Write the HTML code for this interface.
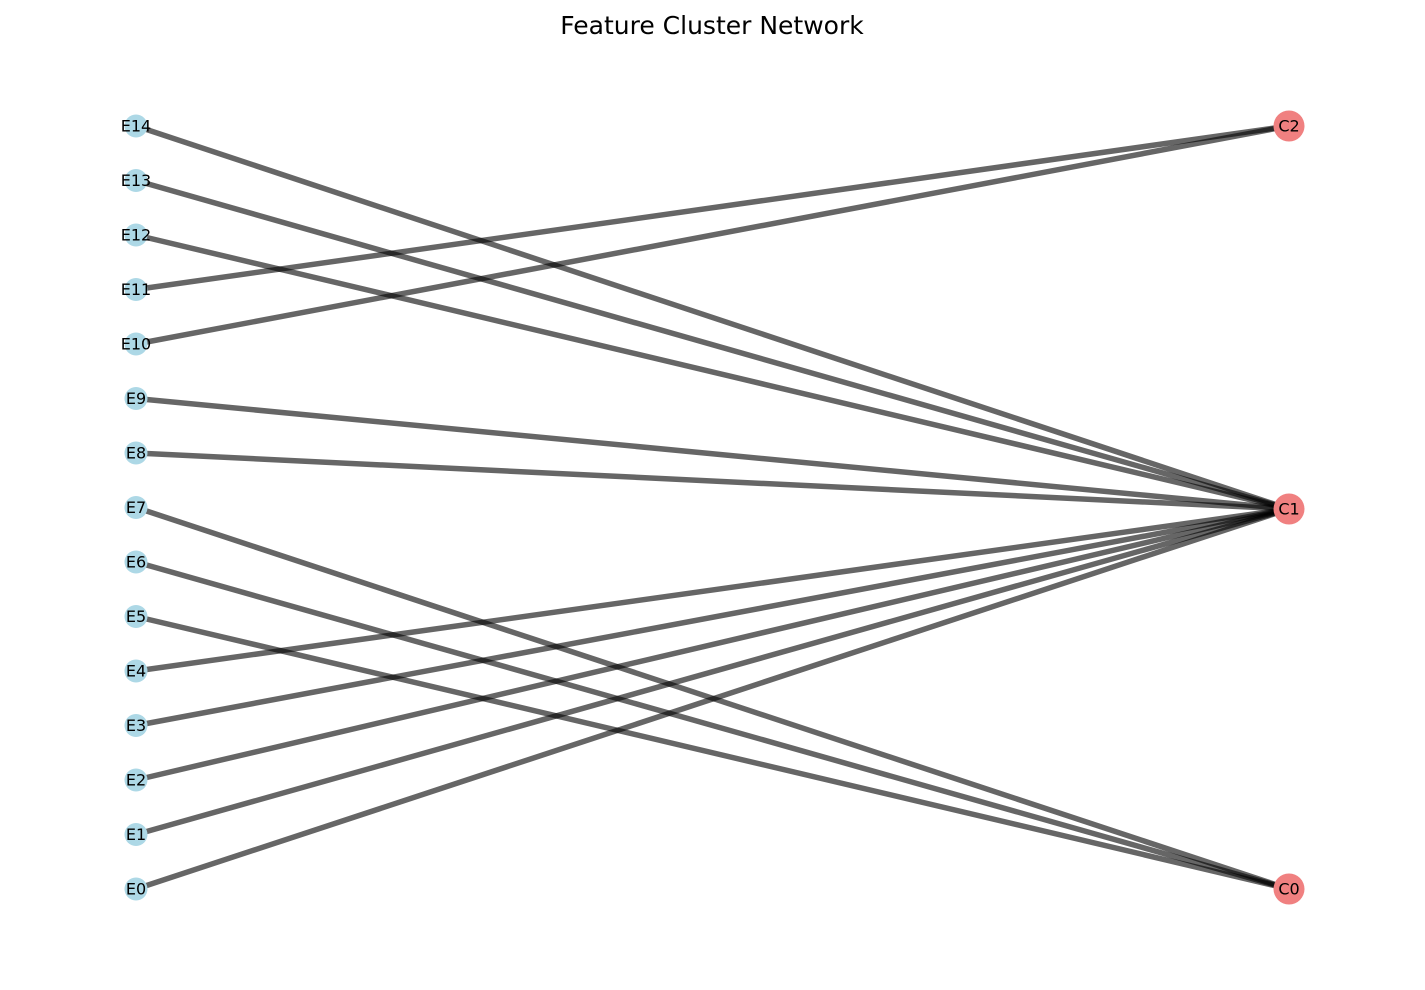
<!DOCTYPE html>
<html><head><meta charset="utf-8"><style>body{margin:0;background:#fff}</style></head><body>
<svg width="1425" height="985" xmlns="http://www.w3.org/2000/svg" font-family="DejaVu Sans, Liberation Sans, sans-serif">
<text x="712" y="34" font-size="25" text-anchor="middle">Feature Cluster Network</text>
<g stroke="#000" stroke-opacity="0.6" stroke-width="5.5">
<line x1="136" y1="126" x2="1289" y2="509"/>
<line x1="136" y1="180.5" x2="1289" y2="509"/>
<line x1="136" y1="235" x2="1289" y2="509"/>
<line x1="136" y1="289.5" x2="1289" y2="126"/>
<line x1="136" y1="344" x2="1289" y2="126"/>
<line x1="136" y1="398.5" x2="1289" y2="509"/>
<line x1="136" y1="453" x2="1289" y2="509"/>
<line x1="136" y1="507.5" x2="1289" y2="889"/>
<line x1="136" y1="562" x2="1289" y2="889"/>
<line x1="136" y1="616.5" x2="1289" y2="889"/>
<line x1="136" y1="671" x2="1289" y2="509"/>
<line x1="136" y1="725.5" x2="1289" y2="509"/>
<line x1="136" y1="780" x2="1289" y2="509"/>
<line x1="136" y1="834.5" x2="1289" y2="509"/>
<line x1="136" y1="889" x2="1289" y2="509"/>
</g>
<g fill="#add8e6">
<circle cx="136" cy="126" r="11.5"/><circle cx="136" cy="180.5" r="11.5"/><circle cx="136" cy="235" r="11.5"/><circle cx="136" cy="289.5" r="11.5"/><circle cx="136" cy="344" r="11.5"/><circle cx="136" cy="398.5" r="11.5"/><circle cx="136" cy="453" r="11.5"/><circle cx="136" cy="507.5" r="11.5"/><circle cx="136" cy="562" r="11.5"/><circle cx="136" cy="616.5" r="11.5"/><circle cx="136" cy="671" r="11.5"/><circle cx="136" cy="725.5" r="11.5"/><circle cx="136" cy="780" r="11.5"/><circle cx="136" cy="834.5" r="11.5"/><circle cx="136" cy="889" r="11.5"/>
</g>
<g fill="#f08080"><circle cx="1289" cy="126" r="15.5"/><circle cx="1289" cy="509" r="15.5"/><circle cx="1289" cy="889" r="15.5"/></g>
<g font-size="16" text-anchor="middle" dominant-baseline="central" fill="#000">
<text x="136" y="126">E14</text><text x="136" y="180.5">E13</text><text x="136" y="235">E12</text><text x="136" y="289.5">E11</text><text x="136" y="344">E10</text><text x="136" y="398.5">E9</text><text x="136" y="453">E8</text><text x="136" y="507.5">E7</text><text x="136" y="562">E6</text><text x="136" y="616.5">E5</text><text x="136" y="671">E4</text><text x="136" y="725.5">E3</text><text x="136" y="780">E2</text><text x="136" y="834.5">E1</text><text x="136" y="889">E0</text>
<text x="1289" y="126">C2</text><text x="1289" y="509">C1</text><text x="1289" y="889">C0</text>
</g>
</svg>
</body></html>
